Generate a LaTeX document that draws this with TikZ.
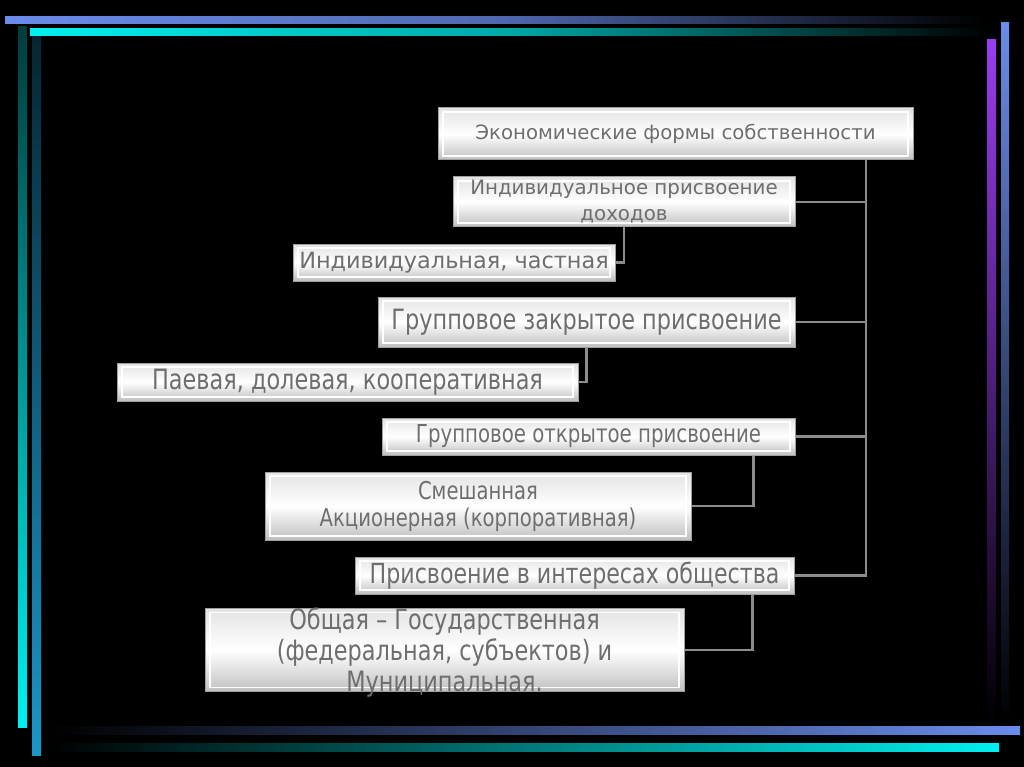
\documentclass[tikz,border=0pt]{standalone}
\usepackage{fontspec}
\setmainfont{DejaVu Sans}
\newfontfamily\narrowfont{DejaVu Sans}[FakeStretch=0.8]
\usetikzlibrary{positioning}
\definecolor{boxtext}{HTML}{6E6E6E}
\definecolor{linkgray}{HTML}{8C8C8C}
\definecolor{topblue}{HTML}{6A8CEB}
\definecolor{sideblue}{HTML}{1A96C8}
\definecolor{linecyan}{HTML}{00F0F0}
\definecolor{linepurple}{HTML}{9A3CF0}

\begin{document}
\begin{tikzpicture}[x=1pt,y=-1pt,
    box/.style={draw=gray!75,line width=1pt,top color=gray!22,bottom color=gray!50,middle color=white,
      text=boxtext,inner sep=0pt,align=center,
      path picture={\draw[white,line width=1.2pt]
        ([xshift=5pt,yshift=-4pt]path picture bounding box.north west) rectangle
        ([xshift=-5pt,yshift=4pt]path picture bounding box.south east);}},
    link/.style={draw=linkgray,line width=2.5pt}]

  % background and frame
  \fill[black] (0,0) rectangle (1024,767);
  \useasboundingbox (0,0) rectangle (1024,767);
  \shade[left color=topblue,right color=black,middle color=topblue!75!black] (5,17) rectangle (985,24);
  \shade[left color=linecyan,right color=black,middle color=linecyan!70!black] (30,29) rectangle (990,36);
  \shade[top color=linecyan!25!black,bottom color=linecyan] (18,27) rectangle (27,727);
  \shade[top color=sideblue!25!black,bottom color=sideblue] (32,37) rectangle (41,755);
  \shade[left color=black,right color=topblue] (48,726) rectangle (1020,734);
  \shade[left color=black,right color=linecyan] (48,743) rectangle (999,751);
  \shade[top color=linepurple,bottom color=black] (987,40) rectangle (996,723);
  \shade[top color=topblue,bottom color=black] (1001,23) rectangle (1009,722);

  \node[box,minimum width=475,minimum height=52,font=\fontsize{19.7}{24}\selectfont] (econ) at (675.5,134)
    {Экономические формы собственности};
  \node[box,minimum width=342,minimum height=50,font=\fontsize{19.8}{26}\selectfont] (ind) at (624,202)
    {Индивидуальное присвоение\\доходов};
  \node[box,minimum width=322,minimum height=37,font=\fontsize{22.4}{27}\selectfont] (indpriv) at (454,262.5)
    {Индивидуальная, частная};
  \node[box,minimum width=417,minimum height=50,font=\narrowfont\fontsize{28}{30}\selectfont] (grpc) at (586.5,322)
    {Групповое закрытое присвоение};
  \node[box,minimum width=461,minimum height=38,font=\narrowfont\fontsize{28}{30}\selectfont] (share) at (347.5,382)
    {Паевая, долевая, кооперативная};
  \node[box,minimum width=413,minimum height=37,font=\narrowfont\fontsize{24.7}{28}\selectfont] (grpo) at (588.5,436.5)
    {Групповое открытое присвоение};
  \node[box,minimum width=426,minimum height=68,font=\narrowfont\fontsize{24.5}{27}\selectfont] (mixed) at (478,506)
    {Смешанная\\Акционерная (корпоративная)};
  \node[box,minimum width=439,minimum height=37,font=\narrowfont\fontsize{27.7}{30}\selectfont] (soc) at (574.5,575.5)
    {Присвоение в интересах общества};
  \node[box,minimum width=479,minimum height=80,font=\narrowfont\fontsize{28}{31}\selectfont] (state) at (444.5,650)
    {Общая – Государственная\\(федеральная, субъектов) и\\\smash{Муниципальная.}};

  % connectors
  \coordinate (trunk) at (866,0);
  \draw[link] (econ.south -| trunk) |- (soc.east);
  \draw[link] (ind.east) -- (ind.east -| trunk);
  \draw[link] (grpc.east) -- (grpc.east -| trunk);
  \draw[link] (grpo.east) -- (grpo.east -| trunk);
  \draw[link] (ind.south) |- (indpriv.east);
  \draw[link] (grpc.south) |- (share.east);
  \draw[link] ([xshift=-42pt]grpo.south east) |- (mixed.east);
  \draw[link] ([xshift=-42pt]soc.south east) |- (state.east);
\end{tikzpicture}
\end{document}
